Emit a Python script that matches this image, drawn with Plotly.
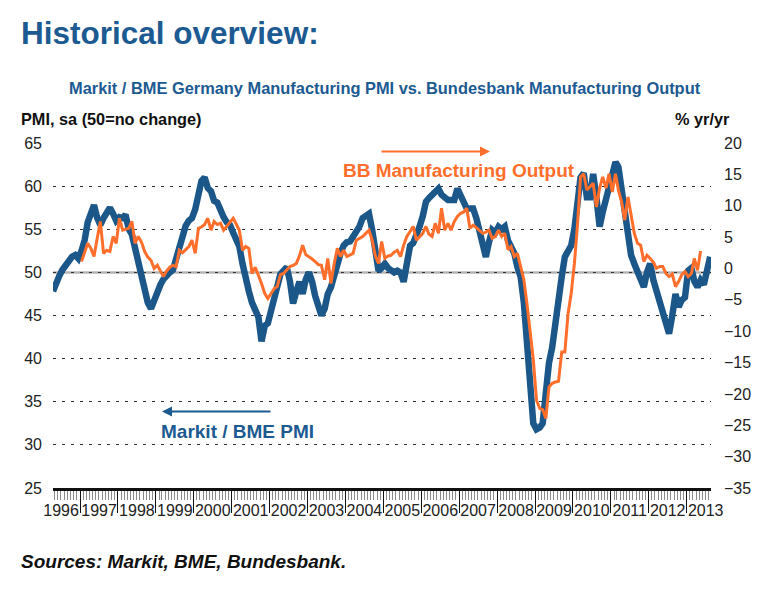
import pandas as pd
import plotly.graph_objects as go

# Markit / BME Germany Manufacturing PMI, monthly, Apr 1996 - Aug 2013
pmi_values = [
    47.8, 49.0, 49.6, 50.3, 50.8, 51.4, 51.8, 52.0, 51.6,                # 1996 (Apr-Dec)
    52.5, 53.8, 55.8, 57.0, 57.8, 56.3, 55.5, 56.3, 57.0, 57.5, 56.8, 56.0,  # 1997
    56.4, 56.3, 56.7, 55.0, 54.4, 52.8, 51.2, 49.0, 48.0, 46.5, 45.8, 46.9,  # 1998
    47.8, 48.6, 49.2, 49.7, 50.0, 50.3, 51.5, 53.0, 53.9, 55.4, 56.0, 56.3,  # 1999
    57.3, 59.1, 60.6, 61.0, 59.8, 59.4, 58.3, 58.1, 57.0, 56.4, 55.8, 55.5,  # 2000
    54.6, 53.7, 53.0, 51.0, 49.0, 47.8, 46.5, 45.8, 44.8, 42.0, 43.8, 44.1,  # 2001
    45.5, 47.1, 48.5, 49.8, 50.2, 50.6, 49.0, 46.4, 47.8, 48.9, 47.5, 49.2,  # 2002
    50.0, 48.9, 47.3, 46.3, 45.0, 45.8, 47.5, 48.3, 49.8, 51.0, 52.2, 53.1,  # 2003
    53.5, 53.6, 54.1, 54.5, 55.3, 56.3, 56.6, 56.8, 54.9, 52.0, 50.2, 50.5,  # 2004
    51.0, 50.5, 50.2, 50.0, 50.2, 50.0, 48.9, 51.0, 53.1, 53.4, 54.2, 55.3,  # 2005
    56.5, 58.2, 58.6, 59.0, 59.3, 59.7, 59.0, 58.7, 58.4, 58.4, 58.4, 59.7,  # 2006
    59.0, 58.2, 57.4, 57.4, 57.4, 56.3, 55.0, 53.0, 51.8, 53.5, 54.9, 54.6,  # 2007
    55.3, 55.0, 55.3, 53.7, 53.0, 52.2, 50.6, 49.5, 46.5, 41.0, 35.5, 32.5,  # 2008
    31.8, 32.0, 32.5, 37.0, 39.5, 41.3, 44.5, 47.5, 49.5, 51.8, 52.5, 53.1,  # 2009
    55.0, 57.5, 61.0, 61.5, 58.7, 58.7, 61.4, 58.7, 55.3, 57.0, 58.5, 60.3,  # 2010
    61.5, 62.8, 62.2, 59.5, 56.0, 53.7, 52.0, 51.0, 50.0, 49.0, 48.3, 50.0,  # 2011
    51.0, 49.1, 48.0, 46.5, 45.4, 44.5, 42.9, 45.0, 47.5, 46.0, 46.8, 47.1,  # 2012
    50.2, 50.5, 49.0, 48.3, 49.1, 48.6, 50.7, 51.8,                          # 2013 (Jan-Aug)
]

# Bundesbank manufacturing output, % yr/yr, monthly, Jan 1997 - May 2013
bb_output = [
    1.1, 2.8, 4.0, 3.2, 1.9, 4.8, 7.5, 2.4, 2.9, 2.7, 5.1, 4.0,        # 1997
    8.0, 6.1, 6.3, 6.4, 7.5, 4.0, 5.1, 4.2, 2.7, 1.8, 1.3, 0.0,        # 1998
    0.5, -0.5, -1.3, -0.4, 0.2, 0.5, 0.3, 2.9, 2.5, 3.0, 3.5, 4.5,     # 1999
    2.4, 6.4, 6.6, 7.0, 8.0, 6.1, 7.5, 7.0, 7.2, 6.1, 6.8, 7.5,        # 2000
    8.0, 7.0, 6.1, 2.9, 3.5, 3.2, -0.8, 0.2, -1.0, -2.4, -4.0, -4.8,   # 2001
    -4.0, -3.2, -2.9, -1.0, -0.8, -0.2, 0.3, 0.5, 0.8, 2.0, 3.7, 2.2,  # 2002
    1.9, 1.5, 1.1, 0.6, 0.5, -1.8, 1.6, -2.4, 0.8, 3.2, 1.9, 2.9,      # 2003
    1.9, 2.2, 2.4, 4.5, 4.8, 5.1, 5.6, 6.1, 4.5, 2.0, 0.8, 4.3,        # 2004
    1.6, 2.0, 2.1, 2.6, 2.9, 1.9, 3.7, 5.1, 5.9, 6.7, 4.5, 5.1,        # 2005
    5.6, 6.7, 5.5, 5.1, 7.2, 5.6, 9.6, 6.1, 7.2, 6.1, 7.5, 8.3,        # 2006
    8.8, 9.0, 9.6, 6.4, 6.9, 6.5, 6.1, 5.6, 5.8, 6.1, 4.8, 5.1,        # 2007
    6.1, 5.1, 5.6, 3.0, 3.5, 1.9, 2.4, 0.5, -1.8, -5.6, -9.8, -14.5,   # 2008
    -21.0, -22.3, -22.5, -23.9, -18.9, -18.3, -18.1, -18.0, -13.3, -13.3, -7.2, -4.0,  # 2009
    0.8, 7.2, 14.6, 15.1, 12.5, 13.0, 13.6, 9.8, 12.8, 14.6, 12.8, 15.1,  # 2010
    12.2, 15.1, 12.5, 10.6, 7.7, 11.4, 8.8, 5.6, 4.0, 3.7, 1.1, 2.1,   # 2011
    1.6, 1.0, 0.0, 0.3, 0.3, -0.8, -1.3, -0.9, -2.9, -2.1, -1.0, -0.5, # 2012
    -1.3, -0.8, 1.6, -0.3, 2.8,                                        # 2013 (Jan-May)
]

pmi_dates = pd.date_range("1996-04-01", periods=len(pmi_values), freq="MS") + pd.Timedelta(days=14)
bb_dates = pd.date_range("1997-01-01", periods=len(bb_output), freq="MS") + pd.Timedelta(days=14)

BLUE = "#1B5788"
TEXT_BLUE = "#1C5A92"
ORANGE = "#FF6E2A"
FONT = "Liberation Sans, Arial, sans-serif"

fig = go.Figure()

fig.add_trace(go.Scatter(
    x=pmi_dates, y=pmi_values, name="Markit / BME PMI",
    mode="lines", line=dict(color=BLUE, width=6.5), yaxis="y"
))
fig.add_trace(go.Scatter(
    x=bb_dates, y=bb_output, name="BB Manufacturing Output",
    mode="lines", line=dict(color=ORANGE, width=3), yaxis="y2"
))

# 50 = no change line
fig.add_shape(type="line", xref="paper", yref="y", x0=0, x1=1, y0=50, y1=50,
              line=dict(color="#B4B4B4", width=2.5), layer="below")

fig.update_layout(
    width=778, height=590,
    margin=dict(l=53, r=67, t=143, b=102, autoexpand=False),
    paper_bgcolor="white", plot_bgcolor="white",
    showlegend=False,
    font=dict(family=FONT, color="#222222", size=16),
    xaxis=dict(
        type="date",
        range=["1996-04-15", "2013-08-23"],
        tick0="1996-01-01", dtick="M12", tickformat="%Y",
        ticklabelmode="period",
        ticks="outside", ticklen=22, tickwidth=1, tickcolor="#111111",
        ticklabelstandoff=-16,
        minor=dict(dtick="M1", ticks="outside", ticklen=9, tickwidth=1, tickcolor="#8A8A8A", showgrid=False),
        showline=True, linecolor="#111111", linewidth=3,
        showgrid=False, zeroline=False, automargin=False,
        tickfont=dict(size=16, color="#222222"),
    ),
    yaxis=dict(
        range=[25, 65], dtick=5,
        showgrid=True, gridcolor="#333333", gridwidth=1, griddash="3px,6px",
        zeroline=False, showline=False, ticks="", automargin=False,
        ticklabelstandoff=10,
        tickfont=dict(size=16, color="#222222"),
    ),
    yaxis2=dict(
        range=[-35, 20], dtick=5, overlaying="y", side="right",
        showgrid=False, zeroline=False, showline=False, ticks="", automargin=False,
        ticklabelstandoff=12,
        tickfont=dict(size=16, color="#222222"),
    ),
)

plot_l, plot_r, plot_t, plot_b = 53, 711, 143, 488


def px_to_paper(px, py):
    """pixel position in the 778x590 picture -> paper coordinates"""
    return (px - plot_l) / (plot_r - plot_l), (plot_b - py) / (plot_b - plot_t)


texts = [
    ("<b>Historical overview:</b>", 19, 33, 31.5, TEXT_BLUE, "left"),
    ("<b>Markit / BME Germany Manufacturing PMI vs. Bundesbank Manufacturing Output</b>", 385, 88, 16.4, TEXT_BLUE, "center"),
    ("<b>PMI, sa (50=no change)</b>", 19, 119, 16.3, "#111111", "left"),
    ("<b>% yr/yr</b>", 732, 119, 16.3, "#111111", "right"),
    ("<b><i>Sources: Markit, BME, Bundesbank.</i></b>", 19, 561, 19, "#111111", "left"),
    ("<b>BB Manufacturing Output</b>", 459, 170, 19, ORANGE, "center"),
    ("<b>Markit / BME PMI</b>", 237.5, 431, 19, TEXT_BLUE, "center"),
]
for text, px, py, size, color, anchor in texts:
    x, y = px_to_paper(px, py)
    fig.add_annotation(x=x, y=y, xref="paper", yref="paper", text=text, showarrow=False,
                       xanchor=anchor, yanchor="middle", font=dict(size=size, color=color))

# arrows pointing to the axis each series belongs to
x, y = px_to_paper(490, 151.5)
fig.add_annotation(x=x, y=y, xref="paper", yref="paper", ax=-110, ay=0, text="",
                   showarrow=True, arrowhead=2, arrowsize=1, arrowwidth=2, arrowcolor=ORANGE)
x, y = px_to_paper(162, 411.5)
fig.add_annotation(x=x, y=y, xref="paper", yref="paper", ax=110, ay=0, text="",
                   showarrow=True, arrowhead=2, arrowsize=1, arrowwidth=2, arrowcolor=TEXT_BLUE)

# page body has a default 8px margin; drop it so the figure sits at the window corner
fig.write_html("out.html", config={"displayModeBar": False},
               post_script="document.body.style.margin='0px';")
